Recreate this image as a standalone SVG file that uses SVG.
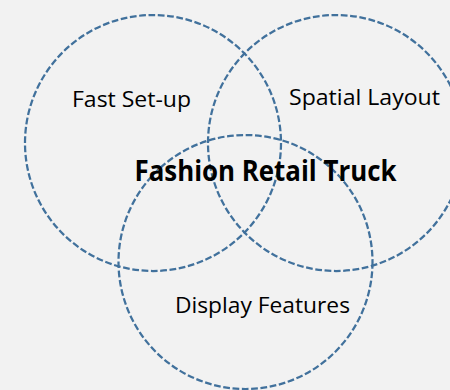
<svg xmlns="http://www.w3.org/2000/svg" width="450" height="390" viewBox="0 0 450 390">
  <style>
    .ring { fill: none; stroke: #41719c; stroke-width: 2.25; stroke-dasharray: 6.75 2.6; }
    .lbl { font-family: "Open Sans", "Liberation Sans", sans-serif; font-size: 22px; fill: #000; }
    .title { font-family: "Open Sans", "Liberation Sans", sans-serif; font-size: 28px; font-weight: bold; fill: #000; }
  </style>
  <rect x="0" y="0" width="450" height="390" fill="#f2f2f2"/>
  <g id="fast-setup">
    <circle class="ring" cx="153" cy="143" r="128"/>
    <text class="lbl" x="72" y="106.5" textLength="119" lengthAdjust="spacingAndGlyphs">Fast Set-up</text>
  </g>
  <g id="spatial-layout">
    <circle class="ring" cx="336" cy="143" r="128"/>
    <text class="lbl" x="289" y="105" textLength="151" lengthAdjust="spacingAndGlyphs">Spatial Layout</text>
  </g>
  <g id="display-features">
    <circle class="ring" cx="245.5" cy="262" r="127"/>
    <text class="lbl" x="175" y="312.5" textLength="175" lengthAdjust="spacingAndGlyphs">Display Features</text>
  </g>
  <g id="center-label">
    <text class="title" x="134.5" y="181" textLength="262" lengthAdjust="spacingAndGlyphs">Fashion Retail Truck</text>
  </g>
</svg>
